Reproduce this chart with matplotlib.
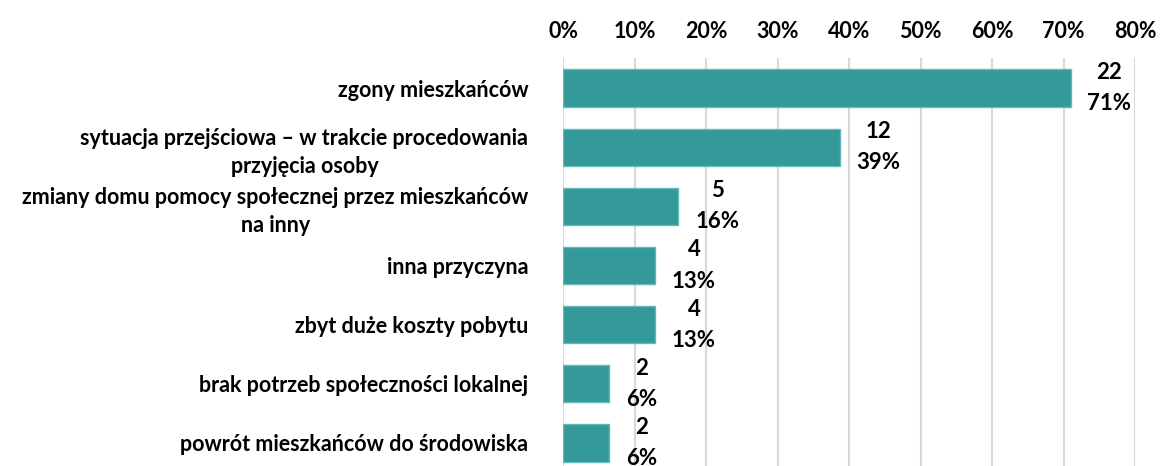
import matplotlib
matplotlib.use("Agg")
import matplotlib.pyplot as plt
from matplotlib.ticker import FuncFormatter, MultipleLocator

categories = [
    "zgony mieszkańców",
    "sytuacja przejściowa – w trakcie procedowania\nprzyjęcia osoby",
    "zmiany domu pomocy społecznej przez mieszkańców\nna inny",
    "inna przyczyna",
    "zbyt duże koszty pobytu",
    "brak potrzeb społeczności lokalnej",
    "powrót mieszkańców do środowiska",
]
counts = [22, 12, 5, 4, 4, 2, 2]
total = 31
shares = [c / total for c in counts]

plt.rcParams['font.family'] = ['Lato', 'DejaVu Sans']
plt.rcParams['font.weight'] = 'bold'

fig = plt.figure(figsize=(11.61, 4.66), dpi=100)
ax = fig.add_axes([0.485, -0.014, 0.4927, 0.8885])

y = list(range(len(categories)))
ax.barh(y, shares, height=0.63, color="#339999", edgecolor="#66b8b8", linewidth=1, zorder=3)
ax.set_ylim(len(categories) - 0.5, -0.5)
ax.set_xlim(0, 0.8)
ax.xaxis.set_major_locator(MultipleLocator(0.1))
ax.xaxis.set_major_formatter(FuncFormatter(lambda v, p: f"{v*100:.0f}%"))
ax.xaxis.tick_top()
ax.tick_params(axis='x', length=0, pad=12, labelsize=15.5)
ax.tick_params(axis='y', length=0, pad=25, labelsize=15.5)
ax.set_yticks(y)
ax.set_yticklabels(categories, multialignment='center', linespacing=1.4)
for lbl in ax.get_xticklabels() + ax.get_yticklabels():
    lbl.set_fontweight('bold')

ax.grid(axis='x', color="#d9d9d9", linewidth=1.5, zorder=0)
for s in ax.spines.values():
    s.set_visible(False)

for yi, c, s in zip(y, counts, shares):
    ax.annotate(f"{c}\n{s*100:.0f}%", xy=(s, yi), xytext=(12, 0), textcoords='offset points',
                ha='left', va='center', multialignment='center', fontsize=16,
                fontweight='bold', linespacing=1.6)

fig.savefig("out.png", dpi=100)
